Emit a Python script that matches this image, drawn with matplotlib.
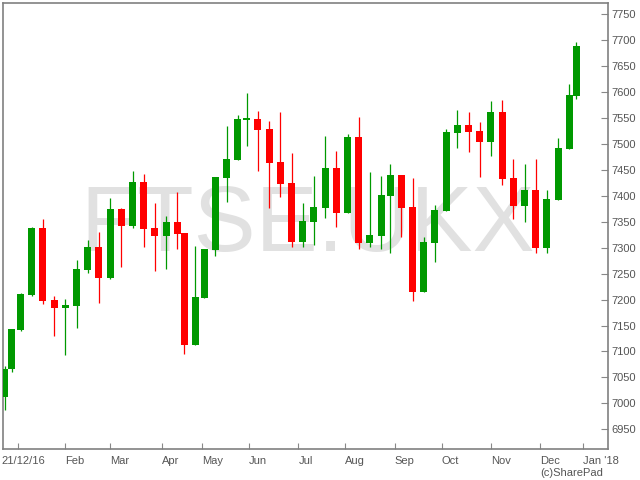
import numpy as np
import pandas as pd
import matplotlib
matplotlib.use("Agg")
import matplotlib.pyplot as plt
from matplotlib.transforms import ScaledTranslation

plt.rcParams['font.family'] = ['Liberation Sans', 'DejaVu Sans']

# weekly FTSE 100 candles (one per trading week, dated on the Wednesday)
week_start = '2016-12-21'
opens = [7012, 7066, 7141, 7209, 7338, 7199, 7184, 7188, 7257, 7301,
         7242, 7374, 7342, 7426, 7338, 7323, 7349, 7328, 7112, 7203,
         7295, 7435, 7469, 7547, 7548, 7529, 7466, 7424, 7311, 7350,
         7377, 7453, 7367, 7513, 7309, 7323, 7400, 7440, 7378, 7215,
         7309, 7371, 7522, 7536, 7525, 7504, 7561, 7434, 7381, 7411,
         7300, 7392, 7491, 7592]
highs = [7072, 7143, 7212, 7339, 7355, 7207, 7202, 7276, 7315, 7330,
         7395, 7376, 7448, 7442, 7387, 7362, 7407, 7328, 7303, 7297,
         7436, 7534, 7555, 7599, 7563, 7545, 7561, 7482, 7387, 7439,
         7515, 7487, 7519, 7551, 7445, 7439, 7461, 7440, 7435, 7320,
         7383, 7528, 7565, 7562, 7542, 7582, 7584, 7471, 7461, 7471,
         7412, 7511, 7615, 7697]
lows = [6987, 7061, 7140, 7207, 7191, 7130, 7094, 7146, 7252, 7193,
        7239, 7263, 7338, 7302, 7255, 7258, 7298, 7096, 7112, 7203,
        7284, 7388, 7469, 7496, 7448, 7377, 7397, 7302, 7302, 7305,
        7358, 7339, 7367, 7297, 7302, 7297, 7289, 7321, 7197, 7215,
        7272, 7371, 7493, 7485, 7437, 7477, 7421, 7356, 7350, 7289,
        7289, 7392, 7491, 7586]
closes = [7067, 7143, 7211, 7338, 7198, 7184, 7189, 7259, 7301, 7242,
          7374, 7342, 7426, 7336, 7323, 7349, 7327, 7112, 7205, 7297,
          7436, 7471, 7548, 7549, 7527, 7464, 7423, 7311, 7351, 7378,
          7453, 7367, 7513, 7309, 7324, 7401, 7440, 7377, 7215, 7311,
          7372, 7523, 7536, 7523, 7504, 7561, 7433, 7381, 7411, 7300,
          7394, 7492, 7594, 7688]

month_labels = ["21/12/16", "Feb", "Mar", "Apr", "May", "Jun", "Jul",
                "Aug", "Sep", "Oct", "Nov", "Dec", "Jan '18"]
uk_holidays = ['2016-12-26', '2016-12-27', '2017-01-02', '2017-04-14',
               '2017-04-17', '2017-05-01', '2017-05-29', '2017-08-28',
               '2017-12-25', '2017-12-26']


def trading_day(d):
    # x axis runs in trading days, like the original chart
    d = np.asarray(d, dtype='datetime64[D]')
    return np.busday_count(np.datetime64(week_start, 'D'), d, holidays=uk_holidays)


dates = pd.date_range(week_start, periods=len(closes), freq='7D')
x = trading_day(dates.values)
months = pd.date_range('2017-01-01', '2018-01-01', freq='MS')
mx = trading_day(months.values)

o = np.array(opens)
c = np.array(closes)
colors = np.where(c >= o, '#009900', '#ff0000')

fig = plt.figure(figsize=(6.4, 4.8), dpi=100)
ax = fig.add_axes([0.0052, 0.0646, 0.9453, 0.9285])

ax.text(0.5035, 0.445, 'FTSE.UKX', transform=ax.transAxes, fontsize=67,
        color='#e1e1e1', ha='center', va='baseline', zorder=0.2)

ax.vlines(x, lows, highs, colors=colors, linewidth=0.9, zorder=2)
ax.bar(x, np.maximum(np.abs(c - o), 1.5), bottom=np.minimum(o, c),
       width=3.1, color=colors, zorder=3)

ax.set_xlim(-0.67, 269.4)
ax.set_ylim(6912, 7771)

# x: month ticks, quarterly grid
ax.set_xticks(mx, month_labels)
ax.set_xticks(mx[::3], minor=True)
ax.tick_params(axis='x', which='major', direction='in', length=4, pad=5,
               color='#888888', labelcolor='#555555', labelsize=8)
ax.tick_params(axis='x', which='minor', length=0)
xlabels = ax.get_xticklabels()
for lab in xlabels:
    lab.set_ha('left')
# the start-date label is pulled left so it fits inside the figure
xlabels[0].set_transform(xlabels[0].get_transform()
                         + ScaledTranslation(-0.165, 0, fig.dpi_scale_trans))

# y: labels every 50 on the right, grid every 100
ax.yaxis.tick_right()
ax.set_yticks(range(6950, 7751, 50))
ax.set_yticks(range(7000, 7701, 100), minor=True)
ax.tick_params(axis='y', which='major', direction='in', length=5, pad=2,
               color='#888888', labelcolor='#555555', labelsize=8)
ax.tick_params(axis='y', which='minor', length=0)

ax.set_axisbelow(True)
ax.grid(which='minor', color='#d9d9d9', linewidth=1)
ax.grid(which='major', visible=False)
for s in ax.spines.values():
    s.set_color('#808080')
    s.set_linewidth(1.2)

fig.text(0.844, 0.026, '(c)SharePad', fontsize=8, color='#555555',
         ha='left', va='top')

fig.savefig('out.png', dpi=100)
